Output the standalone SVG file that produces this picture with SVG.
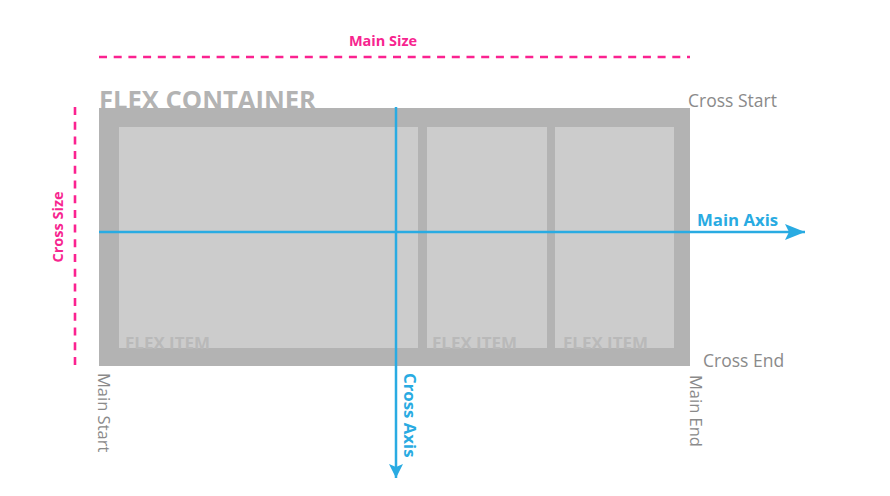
<svg xmlns="http://www.w3.org/2000/svg" width="890" height="496" viewBox="0 0 890 496">
<style>
.pink{fill:#f7258f;font-family:"Open Sans","Noto Sans",sans-serif;font-weight:bold;font-size:14.5px}
.blue{fill:#29abe2;font-family:"Open Sans","Noto Sans",sans-serif;font-weight:bold;font-size:16.8px}
.gray{fill:#8a8a8a;font-family:"Open Sans","Noto Sans",sans-serif;font-size:17.5px}
.vgray{fill:#8a8a8a;font-family:"Open Sans","Noto Sans",sans-serif;font-size:16.5px}
.item{fill:#cccccc}
.itemtxt{fill:#b9b9b9;font-family:"Open Sans","Noto Sans",sans-serif;font-weight:bold;font-size:16px}
.dash{stroke:#fb2290;stroke-width:2.6;stroke-dasharray:8 6.7;fill:none}
.axis{stroke:#29abe2;stroke-width:2.5;fill:none}
</style>
<defs>
<marker id="arrMain" markerUnits="userSpaceOnUse" markerWidth="20" markerHeight="16" refX="20" refY="8" orient="auto" viewBox="0 0 20 16">
<path d="M0,0 L20,8 L0,16 L4,8 Z" fill="#29abe2"/>
</marker>
<marker id="arrCross" markerUnits="userSpaceOnUse" markerWidth="14" markerHeight="14" refX="14" refY="7" orient="auto" viewBox="0 0 14 14">
<path d="M0,0 L14,7 L0,14 L3,7 Z" fill="#29abe2"/>
</marker>
</defs>
<g id="container">
<text x="99" y="109" font-family="'Open Sans','Noto Sans',sans-serif" font-weight="bold" font-size="25" fill="#b3b3b3" textLength="217" lengthAdjust="spacingAndGlyphs">FLEX CONTAINER</text>
<rect x="99" y="108" width="591" height="258" fill="#b3b3b3"/>
</g>
<g id="item1">
<rect class="item" x="119" y="127" width="299" height="221"/>
<text class="itemtxt" x="125" y="348.5" textLength="85" lengthAdjust="spacingAndGlyphs">FLEX ITEM</text>
</g>
<g id="item2">
<rect class="item" x="427" y="127" width="120" height="221"/>
<text class="itemtxt" x="432" y="348.5" textLength="85" lengthAdjust="spacingAndGlyphs">FLEX ITEM</text>
</g>
<g id="item3">
<rect class="item" x="555" y="127" width="119" height="221"/>
<text class="itemtxt" x="563" y="348.5" textLength="85" lengthAdjust="spacingAndGlyphs">FLEX ITEM</text>
</g>
<g id="connectors">
<line class="dash" x1="99" y1="57" x2="690" y2="57"/>
<line class="dash" x1="75" y1="107" x2="75" y2="366"/>
<line class="axis" x1="99" y1="232" x2="805" y2="232" marker-end="url(#arrMain)"/>
<line class="axis" x1="396" y1="107" x2="396" y2="478" marker-end="url(#arrCross)"/>
</g>
<g id="labels">
<text class="pink" x="383" y="46" text-anchor="middle">Main Size</text>
<text class="pink" transform="translate(63,227) rotate(-90)" text-anchor="middle">Cross Size</text>
<text class="blue" x="697" y="226">Main Axis</text>
<text class="blue" transform="translate(404,373) rotate(90)">Cross Axis</text>
<text class="gray" x="688" y="107">Cross Start</text>
<text class="gray" x="703" y="367">Cross End</text>
<text class="vgray" transform="translate(98,373) rotate(90)">Main Start</text>
<text class="vgray" transform="translate(690,375) rotate(90)">Main End</text>
</g>
</svg>
